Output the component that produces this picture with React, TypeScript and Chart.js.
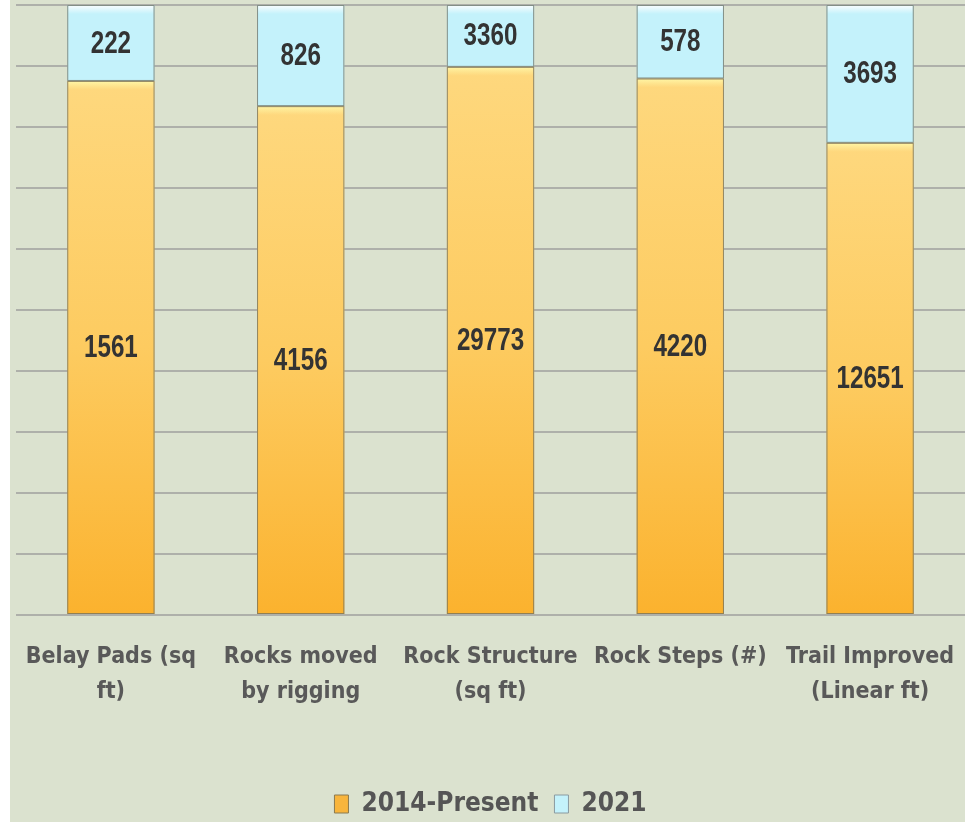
import React, { useEffect, useRef } from "react";
import { Chart, registerables } from "chart.js";

Chart.register(...registerables);

const categories: string[][] = [
  ["Belay Pads (sq", "ft)"],
  ["Rocks moved", "by rigging"],
  ["Rock Structure", "(sq ft)"],
  ["Rock Steps (#)"],
  ["Trail Improved", "(Linear ft)"],
];
const seriesNames = ["2014-Present", "2021"];
const valuesPresent = [1561, 4156, 29773, 4220, 12651];
const values2021 = [222, 826, 3360, 578, 3693];
const yTicks = [0, 10, 20, 30, 40, 50, 60, 70, 80, 90, 100];

const COND = "'DejaVu Sans Condensed', 'Liberation Sans Narrow', sans-serif";
const rawSeries = [valuesPresent, values2021];
const totals = valuesPresent.map((v, i) => v + values2021[i]);
const pctPresent = valuesPresent.map((v, i) => (v / totals[i]) * 100);
const pct2021 = values2021.map((v, i) => (v / totals[i]) * 100);

const bgPlugin = {
  id: "bgPlugin",
  beforeDraw(chart: any) {
    const { ctx, width, height } = chart;
    ctx.save();
    ctx.fillStyle = "#dbe2cf";
    ctx.fillRect(0, 0, width, height);
    ctx.fillStyle = "#ffffff";
    ctx.fillRect(0, 0, 10, height);
    ctx.restore();
  },
};

const bevelPlugin = {
  id: "bevelPlugin",
  afterDatasetsDraw(chart: any) {
    const ctx = chart.ctx;
    ctx.save();
    chart.data.datasets.forEach((ds: any, di: number) => {
      const meta = chart.getDatasetMeta(di);
      meta.data.forEach((el: any, i: number) => {
        const { x, y, base, width } = el.getProps(["x", "y", "base", "width"], true);
        const left = x - width / 2;
        const top = Math.min(y, base);
        const bot = Math.max(y, base);
        const hi = ctx.createLinearGradient(0, top, 0, top + 9);
        if (di === 0) {
          hi.addColorStop(0, "rgba(255,250,170,0.95)");
          hi.addColorStop(1, "rgba(255,240,160,0)");
        } else {
          hi.addColorStop(0, "rgba(255,255,255,0.95)");
          hi.addColorStop(1, "rgba(255,255,255,0)");
        }
        ctx.fillStyle = hi;
        ctx.fillRect(left + 1, top + 1, width - 2, 9);
        ctx.strokeStyle = "rgba(110,110,95,0.75)";
        ctx.lineWidth = 1;
        ctx.strokeRect(left + 0.5, top + 0.5, width - 1, bot - top - 1);
        // value label (narrow bold, like Arial Narrow)
        const cy = (top + bot) / 2;
        ctx.save();
        ctx.translate(x, cy);
        ctx.scale(0.78, 1);
        ctx.font = "bold 31px 'Liberation Sans', Arial, sans-serif";
        ctx.fillStyle = "#333333";
        ctx.textAlign = "center";
        ctx.textBaseline = "middle";
        ctx.fillText(String(rawSeries[di][i]), 0, 1);
        ctx.restore();
      });
    });
    ctx.restore();
  },
};

export default function App() {
  const ref = useRef<HTMLCanvasElement | null>(null);

  useEffect(() => {
    if (!ref.current) return;
    const orangeBg = (c: any) => {
      const chart = c.chart;
      const ys = chart.scales && chart.scales.y;
      if (!ys || c.dataIndex === undefined) return "#fcc64f";
      const top = ys.getPixelForValue(pctPresent[c.dataIndex]);
      const bot = ys.getPixelForValue(0);
      if (!isFinite(top) || !isFinite(bot)) return "#fcc64f";
      const g = chart.ctx.createLinearGradient(0, top, 0, bot);
      g.addColorStop(0, "#fed87e");
      g.addColorStop(0.5, "#fdcb60");
      g.addColorStop(1, "#fbb22e");
      return g;
    };
    const chart = new Chart(ref.current, {
      type: "bar",
      data: {
        labels: categories,
        datasets: [
          {
            label: seriesNames[0],
            data: pctPresent,
            backgroundColor: orangeBg,
            borderWidth: 0,
            barPercentage: 0.46,
            categoryPercentage: 1,
          },
          {
            label: seriesNames[1],
            data: pct2021,
            backgroundColor: "#c4f2fb",
            borderWidth: 0,
            barPercentage: 0.46,
            categoryPercentage: 1,
          },
        ],
      },
      options: {
        responsive: false,
        animation: false,
        layout: { padding: { left: 16, right: 0, top: 5, bottom: -5 } },
        plugins: {
          tooltip: { enabled: false },
          legend: {
            position: "bottom",
            labels: {
              font: { family: COND, size: 26, weight: "bold" },
              color: "#555555",
              boxWidth: 14,
              boxHeight: 18,
              padding: 16,
              generateLabels: () => [
                { text: seriesNames[0], fillStyle: "#f8b53c", strokeStyle: "#8a7a50", fontColor: "#555555", lineWidth: 1, datasetIndex: 0 },
                { text: seriesNames[1], fillStyle: "#c4f2fb", strokeStyle: "#8a9aa0", fontColor: "#555555", lineWidth: 1, datasetIndex: 1 },
              ],
            },
          },
        },
        scales: {
          x: {
            stacked: true,
            grid: { display: false, drawTicks: false },
            border: { display: false },
            ticks: {
              padding: 25,
              color: "#595959",
              font: { family: COND, size: 23, weight: "bold", lineHeight: 1.5 },
              maxRotation: 0,
              autoSkip: false,
            },
            afterFit: (s: any) => {
              s.height = 160;
              s.paddingLeft = 0;
              s.paddingRight = 0;
            },
          },
          y: {
            stacked: true,
            min: 0,
            max: 100,
            afterBuildTicks: (s: any) => {
              s.ticks = yTicks.map((v) => ({ value: v }));
            },
            ticks: { display: false },
            grid: { color: "#aeb0aa", lineWidth: 2, drawTicks: false },
            border: { display: false },
          },
        },
      },
      plugins: [bgPlugin, bevelPlugin],
    } as any);
    return () => chart.destroy();
  }, []);

  return (
    <div style={{ position: "absolute", left: 0, top: 0, width: 965, height: 822 }}>
      <canvas ref={ref} width={965} height={822} style={{ display: "block" }} />
    </div>
  );
}
